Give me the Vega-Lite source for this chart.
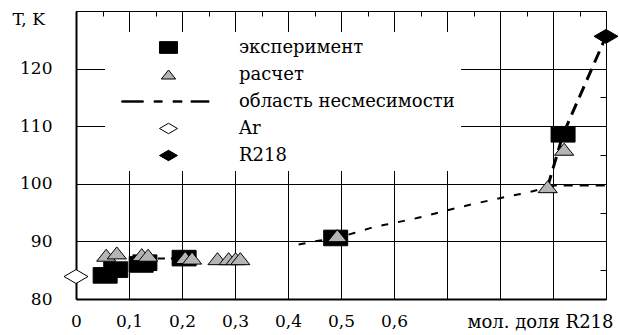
{
  "$schema": "https://vega.github.io/schema/vega-lite/v6.json",
  "width": 530,
  "height": 288,
  "autosize": "none",
  "padding": {"left": 76, "top": 11, "right": 13, "bottom": 36},
  "background": "white",
  "config": {
    "view": {"stroke": "black", "strokeWidth": 1},
    "font": "DejaVu Serif",
    "axis": {"labelFont": "DejaVu Serif", "titleFont": "DejaVu Serif", "labelColor": "black", "titleColor": "black", "gridColor": "black", "gridOpacity": 1, "gridWidth": 1, "tickColor": "black", "domainColor": "black"},
    "legend": {"labelFont": "DejaVu Serif"}
  },
  "datasets": {
    "pts": [
      {"x": 0.055, "t": 84.1, "series": "эксперимент"},
      {"x": 0.075, "t": 85.1, "series": "эксперимент"},
      {"x": 0.123, "t": 86.0, "series": "эксперимент"},
      {"x": 0.13, "t": 86.3, "series": "эксперимент"},
      {"x": 0.204, "t": 87.1, "series": "эксперимент"},
      {"x": 0.49, "t": 90.6, "series": "эксперимент"},
      {"x": 0.919, "t": 108.6, "series": "эксперимент"},
      {"x": 0.057, "t": 87.6, "series": "расчет"},
      {"x": 0.077, "t": 88.0, "series": "расчет"},
      {"x": 0.124, "t": 87.7, "series": "расчет"},
      {"x": 0.136, "t": 87.6, "series": "расчет"},
      {"x": 0.206, "t": 87.2, "series": "расчет"},
      {"x": 0.219, "t": 87.1, "series": "расчет"},
      {"x": 0.267, "t": 87.0, "series": "расчет"},
      {"x": 0.288, "t": 87.0, "series": "расчет"},
      {"x": 0.301, "t": 87.0, "series": "расчет"},
      {"x": 0.31, "t": 87.0, "series": "расчет"},
      {"x": 0.493, "t": 91.0, "series": "расчет"},
      {"x": 0.89, "t": 99.5, "series": "расчет"},
      {"x": 0.921, "t": 106.0, "series": "расчет"},
      {"x": 0.0, "t": 83.9, "series": "Ar"},
      {"x": 1.0, "t": 125.6, "series": "R218"}
    ],
    "curve": [
      {"x": 0.42, "t": 89.45},
      {"x": 0.45, "t": 90.0},
      {"x": 0.49, "t": 90.6},
      {"x": 0.53, "t": 91.6},
      {"x": 0.555, "t": 92.3},
      {"x": 0.6, "t": 93.2},
      {"x": 0.655, "t": 94.3},
      {"x": 0.7, "t": 95.4},
      {"x": 0.76, "t": 96.7},
      {"x": 0.82, "t": 97.9},
      {"x": 0.857, "t": 98.6},
      {"x": 0.89, "t": 99.5}
    ],
    "flat": [
      {"x": 0.89, "t": 99.7},
      {"x": 1.0, "t": 99.7}
    ],
    "steep": [
      {"x": 0.89, "t": 99.5},
      {"x": 0.919, "t": 108.6},
      {"x": 1.0, "t": 125.6}
    ],
    "left": [
      {"x": 0.13, "t": 87.05},
      {"x": 0.205, "t": 87.05}
    ]
  },
  "layer": [
    {
      "data": {"name": "curve"},
      "mark": {"type": "line", "color": "black", "strokeWidth": 2, "strokeDash": [7, 10], "interpolate": "monotone"},
      "encoding": {
        "x": {"field": "x", "type": "quantitative", "scale": {"domain": [0, 1], "nice": false, "zero": false},
          "axis": {"values": [0, 0.1, 0.2, 0.3, 0.4, 0.5, 0.6, 0.7, 0.8, 0.9, 1.0], "grid": true, "ticks": false, "domain": true, "domainWidth": 2,
            "labelExpr": "datum.value == 0 ? '0' : (datum.value > 0.65 ? '' : replace(format(datum.value, '.1f'), '.', ','))",
            "labelFontSize": 17, "labelPadding": 22, "labelBaseline": "middle", "labelFlush": false,
            "title": "мол. доля R218", "titleFontSize": 18, "titleFontWeight": "normal", "titleAnchor": null, "titleAlign": "right", "titleBaseline": "middle", "titleX": 537, "titleY": 23}},
        "y": {"field": "t", "type": "quantitative", "scale": {"domain": [80, 130], "nice": false, "zero": false},
          "axis": {"values": [80, 90, 100, 110, 120, 130], "grid": true, "ticks": false, "domain": true, "domainWidth": 2,
            "labelExpr": "datum.value == 130 ? '' : datum.label",
            "labelFontSize": 17, "labelPadding": 24, "labelBaseline": "middle",
            "title": "T, K", "titleFontSize": 17, "titleFontWeight": "normal", "titleAngle": 0, "titleAlign": "left", "titleBaseline": "middle", "titleAnchor": null, "titleX": -64, "titleY": 8}}
      }
    },
    {
      "data": {"name": "flat"},
      "mark": {"type": "line", "color": "black", "strokeWidth": 2, "strokeDash": [9, 7]},
      "encoding": {
        "x": {"field": "x", "type": "quantitative",
          "axis": {"values": [0.05, 0.15, 0.25, 0.35, 0.45, 0.55, 0.65, 0.75, 0.85, 0.95], "grid": false, "labels": false, "domain": false, "ticks": true, "tickSize": -5, "tickColor": "black", "title": null}},
        "y": {"field": "t", "type": "quantitative",
          "axis": {"values": [85, 95, 105, 115, 125], "grid": false, "labels": false, "domain": false, "ticks": true, "tickSize": -6, "tickColor": "black", "title": null}}
      }
    },
    {
      "data": {"name": "steep"},
      "mark": {"type": "line", "color": "black", "strokeWidth": 3, "strokeDash": [12, 7]},
      "encoding": {
        "x": {"field": "x", "type": "quantitative", "axis": null},
        "y": {"field": "t", "type": "quantitative", "axis": null}
      }
    },
    {
      "data": {"name": "left"},
      "mark": {"type": "line", "color": "black", "strokeWidth": 2, "strokeDash": [7, 6]},
      "encoding": {
        "x": {"field": "x", "type": "quantitative", "axis": null},
        "y": {"field": "t", "type": "quantitative", "axis": null}
      }
    },
    {
      "data": {"name": "pts"},
      "mark": {"type": "point", "filled": true, "size": 576, "strokeWidth": 1, "opacity": 1},
      "encoding": {
        "x": {"field": "x", "type": "quantitative", "axis": null},
        "y": {"field": "t", "type": "quantitative", "axis": null},
        "shape": {"field": "series", "type": "nominal",
          "scale": {"domain": ["эксперимент", "расчет", "область несмесимости", "Ar", "R218"],
            "range": ["M-1,-0.65H1V0.65H-1Z", "M0,-0.5L0.8,0.5H-0.8Z", "M-5.2,-0.07H-2.8V0.07H-5.2Z M-1.6,-0.07H-0.7V0.07H-1.6Z M0.5,-0.07H1.5V0.07H0.5Z M2.5,-0.07H4.5V0.07H2.5Z", "M0,-0.58L1,0L0,0.58L-1,0Z", "M0,-0.58L1,0L0,0.58L-1,0Z"]},
          "legend": {"title": null, "orient": "none", "legendX": 29, "legendY": 21, "padding": 6, "fillColor": "white", "symbolSize": 324, "symbolOffset": 48, "labelOffset": 61, "rowPadding": 8, "labelFontSize": 18, "labelFont": "DejaVu Serif", "labelColor": "black", "labelLimit": 400, "symbolStrokeWidth": 1, "zindex": 1}},
        "fill": {"field": "series", "type": "nominal",
          "scale": {"domain": ["эксперимент", "расчет", "область несмесимости", "Ar", "R218"],
            "range": ["#000000", "#b4b4b4", "#000000", "#ffffff", "#000000"]},
          "legend": {"title": null, "orient": "none", "legendX": 29, "legendY": 21, "padding": 6, "fillColor": "white", "symbolSize": 324, "symbolOffset": 48, "labelOffset": 61, "rowPadding": 8, "labelFontSize": 18, "labelFont": "DejaVu Serif", "labelColor": "black", "labelLimit": 400, "symbolStrokeWidth": 1, "zindex": 1}},
        "stroke": {"field": "series", "type": "nominal",
          "scale": {"domain": ["эксперимент", "расчет", "область несмесимости", "Ar", "R218"],
            "range": ["#000000", "#000000", "#000000", "#000000", "#000000"]},
          "legend": {"title": null, "orient": "none", "legendX": 29, "legendY": 21, "padding": 6, "fillColor": "white", "symbolSize": 324, "symbolOffset": 48, "labelOffset": 61, "rowPadding": 8, "labelFontSize": 18, "labelFont": "DejaVu Serif", "labelColor": "black", "labelLimit": 400, "symbolStrokeWidth": 1, "zindex": 1}}
      }
    }
  ],
  "resolve": {"axis": {"x": "independent", "y": "independent"}}
}
